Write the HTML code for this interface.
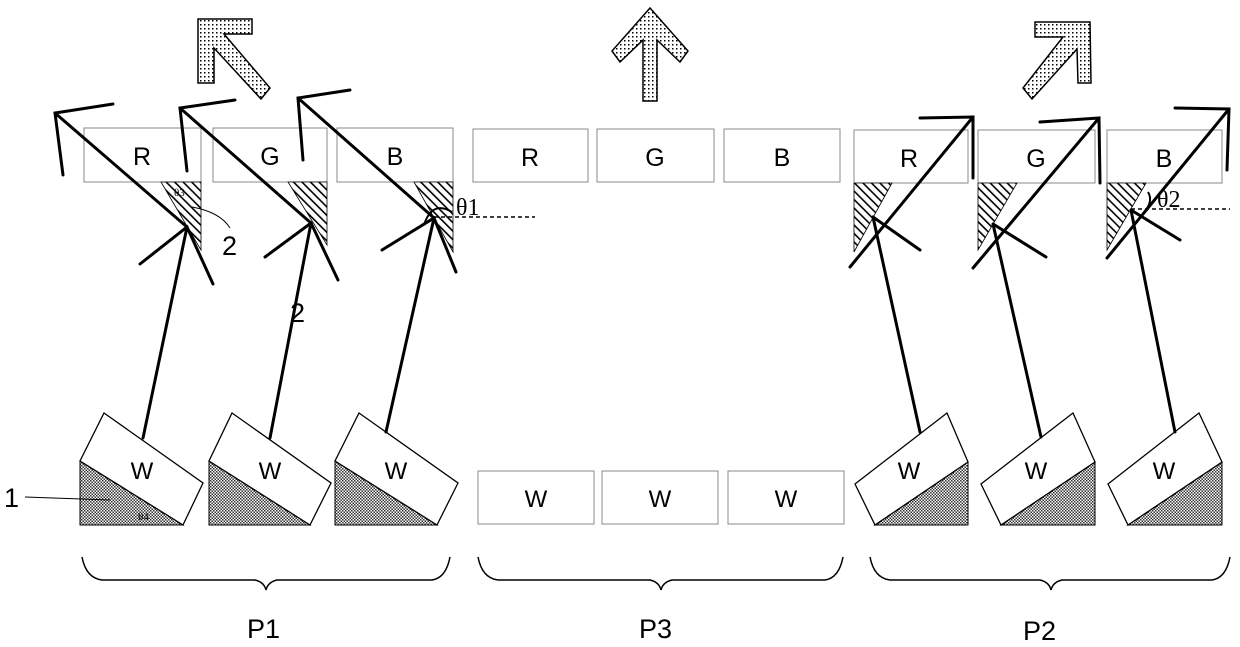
<!DOCTYPE html>
<html><head><meta charset="utf-8"><style>body{margin:0;background:#fff}svg{display:block}</style></head><body>
<svg width="1240" height="647" viewBox="0 0 1240 647" xmlns="http://www.w3.org/2000/svg" font-family="Liberation Sans, sans-serif">
<defs>
<pattern id="h" width="6" height="6" patternUnits="userSpaceOnUse" patternTransform="rotate(-45)"><rect width="6" height="6" fill="#fff"/><rect x="0" y="0" width="1.6" height="6" fill="#000"/></pattern>
<pattern id="c" width="3" height="3" patternUnits="userSpaceOnUse"><rect width="3" height="3" fill="#fff"/><rect width="1.5" height="1.5" fill="#333"/><rect x="1.5" y="1.5" width="1.5" height="1.5" fill="#333"/></pattern>
<pattern id="d" width="4" height="4" patternUnits="userSpaceOnUse"><rect width="4" height="4" fill="#fff"/><rect width="1.5" height="1.5" fill="#000"/></pattern>
</defs>
<g fill="url(#d)" stroke="#000" stroke-width="1.5">
<polygon points="198,19 252,19 252,34 224,34 270,88 261,99 214,48 214,83 198,83"/>
<polygon points="650,8 688,51 680,62 657,40 657,101 643,101 643,40 620,62 612,51"/>
<polygon points="1090,22 1035,22 1035,37 1063,37 1023,88 1032,99 1077,49 1078,83 1091,83"/>
</g>
<g fill="#fff" stroke="#888" stroke-width="1">
<rect x="84" y="128" width="117" height="54"/><rect x="213" y="128" width="114" height="54"/><rect x="337" y="128" width="116" height="54"/>
<rect x="473" y="129" width="115" height="53"/><rect x="597" y="129" width="117" height="53"/><rect x="724" y="129" width="116" height="53"/>
<rect x="854" y="130" width="114" height="53"/><rect x="978" y="130" width="117" height="53"/><rect x="1107" y="130" width="115" height="53"/>
<rect x="478" y="471" width="116" height="53"/><rect x="602" y="471" width="116" height="53"/><rect x="728" y="471" width="116" height="53"/>
</g>
<g fill="url(#h)" stroke="#000" stroke-width="0.8">
<polygon points="161,182 201,182 201,250"/><polygon points="288,182 327,182 327,245"/><polygon points="414,182 453,182 453,252"/>
<polygon points="854,183 892,183 854,252"/><polygon points="978,183 1017,183 978,250"/><polygon points="1107,183 1146,183 1107,250"/>
</g>
<g font-size="25" text-anchor="middle">
<text x="142" y="165">R</text><text x="270" y="165">G</text><text x="395" y="165">B</text>
<text x="530" y="166">R</text><text x="655" y="166">G</text><text x="782" y="166">B</text>
<text x="909" y="167">R</text><text x="1036" y="167">G</text><text x="1164" y="167">B</text>
</g>
<g fill="url(#c)" stroke="#000" stroke-width="1">
<polygon points="80,461 80,525 183,525"/><polygon points="209,461 209,525 310,525"/><polygon points="335,461 335,525 437,525"/>
<polygon points="968,462 968,525 875,525"/><polygon points="1095,462 1095,525 1001,525"/><polygon points="1222,462 1222,525 1128,525"/>
</g>
<g fill="#fff" stroke="#000" stroke-width="1.3">
<polygon points="104,413 203,483 183,525 80,461"/><polygon points="232,413 331,483 310,525 209,461"/><polygon points="359,413 458,483 437,525 335,461"/>
<polygon points="855,484 947,413 968,462 875,525"/><polygon points="981,484 1073,413 1095,462 1001,525"/><polygon points="1108,484 1199,413 1222,462 1128,525"/>
</g>
<g font-size="24" text-anchor="middle">
<text x="142" y="479">W</text><text x="270" y="479">W</text><text x="396" y="479">W</text>
<text x="536" y="507">W</text><text x="660" y="507">W</text><text x="786" y="507">W</text>
<text x="909" y="479">W</text><text x="1036" y="479">W</text><text x="1164" y="479">W</text>
</g>
<g stroke="#000" stroke-width="3" fill="none" stroke-linecap="round">
<path d="M143,438 L187,227 L55,113 M113,104 L55,113 L63,175 M140,264 L187,227 L213,284"/>
<path d="M270,438 L311,223 L180,108 M235,100 L180,108 L187,171 M265,257 L311,223 L338,280"/>
<path d="M386,432 L434,218 L298,98 M350,90 L298,98 L303,160 M382,250 L434,218 L456,272"/>
<path d="M920,432 L873,217 M850,267 L973,117 M920,118 L973,117 L973,178 M873,217 L920,250"/>
<path d="M1041,437 L993,224 M973,268 L1099,118 M1040,122 L1099,118 L1100,183 M993,224 L1046,257"/>
<path d="M1175,432 L1131,210 M1107,258 L1229,109 M1175,108 L1229,109 L1227,170 M1131,210 L1180,240"/>
</g>
<g stroke="#000" stroke-width="1.5" fill="none">
<path d="M434,217 L535,217" stroke-dasharray="4,3"/>
<path d="M1131,209 L1230,209" stroke-dasharray="4,3"/>
<path d="M424,225 Q432,200 452,212" stroke-width="2"/>
<path d="M1148,192 Q1153,200 1146,210" stroke-width="2"/>
<path d="M192,207 Q220,212 230,228" stroke-width="1"/>
<path d="M25,497 L110,500" stroke-width="1"/>
<path d="M82,557 Q86,578 102,580 L255,580 Q264,582 266,590 Q268,582 277,580 L432,580 Q446,578 450,557"/>
<path d="M478,557 Q482,578 498,580 L650,580 Q659,582 661,590 Q663,582 672,580 L825,580 Q839,578 843,557"/>
<path d="M870,557 Q874,578 890,580 L1040,580 Q1049,582 1051,590 Q1053,582 1062,580 L1212,580 Q1226,578 1230,557"/>
</g>
<g font-family="Liberation Serif, serif">
<text x="456" y="215" font-size="24">θ1</text>
<text x="1157" y="207" font-size="24">θ2</text>
<text x="174" y="196" font-size="11">θ3</text>
<text x="138" y="520" font-size="11">θ4</text>
</g>
<g font-size="27">
<text x="222" y="255">2</text><text x="290" y="322">2</text><text x="4" y="507">1</text>
<text x="247" y="638">P1</text><text x="639" y="638">P3</text><text x="1023" y="640">P2</text>
</g>
</svg>
</body></html>
